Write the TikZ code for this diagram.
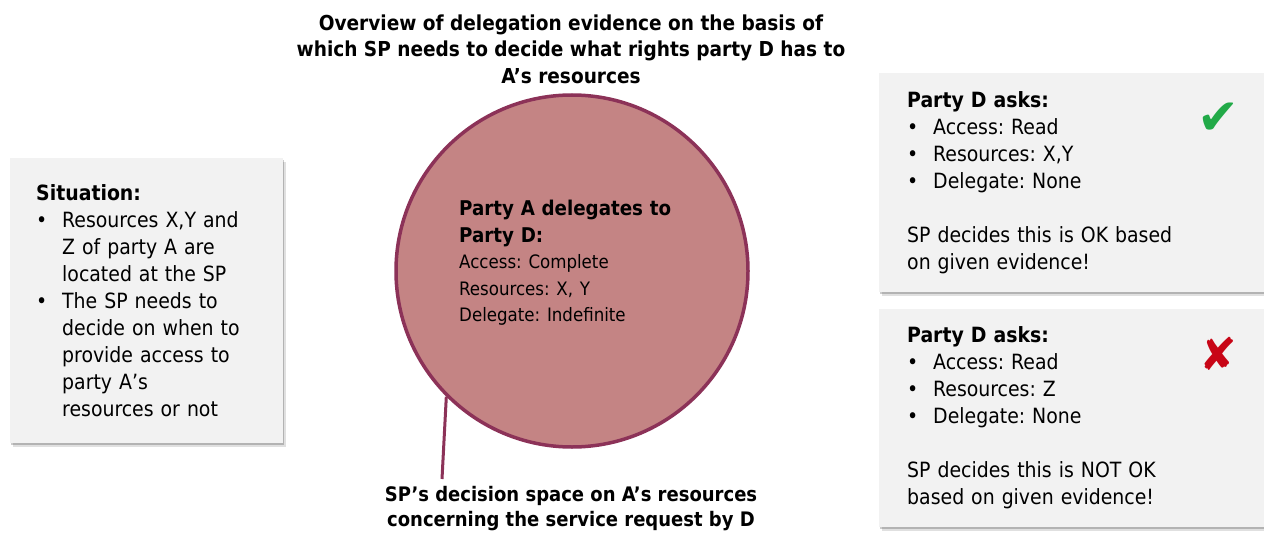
\documentclass[tikz,border=0pt]{standalone}
\usepackage{fontspec}
\setmainfont{DejaVu Sans Condensed}
\newfontfamily\symfont{DejaVu Sans}
\usetikzlibrary{shadows}
\frenchspacing
\definecolor{boxgray}{RGB}{242,242,242}
\definecolor{circfill}{RGB}{196,132,132}
\definecolor{circline}{RGB}{140,50,88}
\definecolor{okgreen}{RGB}{34,170,72}
\definecolor{nored}{RGB}{200,5,22}
\newcommand{\bul}{\makebox[26pt][l]{\textbullet}}
\newcommand{\ind}{\hspace*{26pt}}
\tikzset{
  infobox/.style={fill=boxgray, draw=none, anchor=north west, inner ysep=0pt, align=left,
    drop shadow={shadow xshift=2.5pt, shadow yshift=-3.5pt, opacity=0.12, fill=black},
    drop shadow={shadow xshift=1.2pt, shadow yshift=-2pt, opacity=0.2, fill=black},
    font=\fontsize{21}{27}\selectfont\frenchspacing},
  titletext/.style={align=center, font=\bfseries\fontsize{20.6}{26.5}\selectfont, inner sep=0pt},
  sym/.style={font=\symfont\fontsize{50}{50}\selectfont, inner sep=0pt},
  connector/.style={draw=circline, line width=3pt}
}
\begin{document}
\begin{tikzpicture}[x=1pt,y=-1pt]
\useasboundingbox (0,0) rectangle (1264,535);
\fill[white] (0,0) rectangle (1264,535);
% title
\node[titletext] (title) at (571,49) {Overview of delegation evidence on the basis of\\which SP needs to decide what rights party D has to\\A’s resources};
% left box
\node[infobox, minimum width=273pt, minimum height=285pt, inner xsep=26pt, text width=221pt] (situation) at (10,158)
 {\textbf{Situation:}\\
  \bul Resources X,Y and\\
  \ind Z of party A are\\
  \ind located at the SP\\
  \bul The SP needs to\\
  \ind decide on when to\\
  \ind provide access to\\
  \ind party A’s\\
  \ind resources or not};
% circle
\node[circle, fill=circfill, draw=circline, line width=3.5pt, minimum size=352pt, inner sep=0pt] (space) at (572,271) {};
\node[anchor=north west, align=left, inner sep=0pt, text width=240pt, font=\fontsize{20.3}{26.5}\selectfont\bfseries\frenchspacing] (deleg) at (459,200)
 {Party A delegates to\\
  Party D:\\
  \mdseries\fontsize{18.5}{26.5}\selectfont Access: Complete\\
  Resources: X, Y\\
  Delegate: Indefinite};
% bottom label
\node[titletext, font=\bfseries\fontsize{20}{25}\selectfont] (caption) at (571,509) {SP’s decision space on A’s resources\\concerning the service request by D};
\coordinate (lineend) at (442,479);
\draw[connector] (space.225) -- (lineend);
% right boxes
\node[infobox, minimum width=385pt, minimum height=219pt, inner xsep=28pt, text width=329pt] (okbox) at (879,73)
 {\textbf{Party D asks:}\\
  \bul Access: Read\\
  \bul Resources: X,Y\\
  \bul Delegate: None\\[27pt]
  SP decides this is OK based\\
  on given evidence!};
\node[infobox, minimum width=385pt, minimum height=218pt, inner xsep=28pt, text width=329pt] (nobox) at (879,309)
 {\textbf{Party D asks:}\\
  \bul Access: Read\\
  \bul Resources: Z\\
  \bul Delegate: None\\[27pt]
  SP decides this is NOT OK\\
  based on given evidence!};
\node[sym, text=okgreen] (check) at (1218,119) {✔};
\node[sym, text=nored, font=\symfont\fontsize{45}{45}\selectfont] (cross) at (1218,354) {✘};
\end{tikzpicture}
\end{document}
